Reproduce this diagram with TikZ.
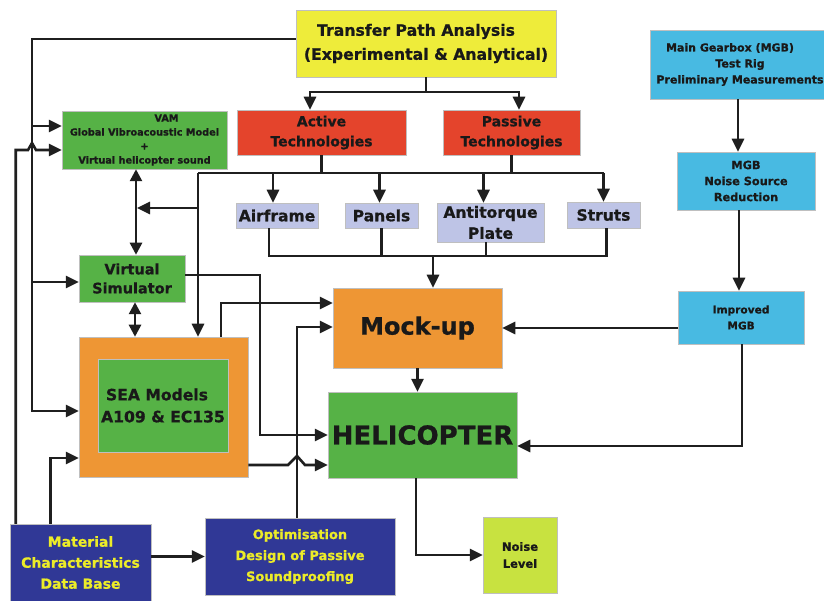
\documentclass[tikz,border=0pt]{standalone}
\usepackage{fontspec}
\setmainfont{DejaVu Sans}[BoldFeatures={FakeBold=0.8}]
\usetikzlibrary{arrows.meta}

\definecolor{tpayellow}{RGB}{238,236,58}
\definecolor{techred}{RGB}{228,68,44}
\definecolor{boxgreen}{RGB}{86,178,70}
\definecolor{mockorange}{RGB}{238,150,52}
\definecolor{partblue}{RGB}{190,196,230}
\definecolor{gearblue}{RGB}{72,186,226}
\definecolor{basenavy}{RGB}{48,56,150}
\definecolor{limegreen}{RGB}{200,226,64}
\definecolor{textyellow}{RGB}{236,236,40}

\newcommand{\bxfont}[2]{\fontsize{#1pt}{#2pt}\selectfont\bfseries}

\begin{document}
\begin{tikzpicture}
  [x=1pt,y=-1pt,
   box/.style={rectangle,draw=black!25,line width=.5pt,inner sep=0pt,align=center,text=black!90},
   part/.style={box,fill=partblue,minimum height=25pt,font=\bxfont{15.5}{21}},
   wire/.style={line width=2.6pt,draw=black!88},
   arr/.style={wire,-{Triangle[length=13pt,width=12pt]}},
   dbl/.style={wire,{Triangle[length=12pt,width=12pt]}-{Triangle[length=12pt,width=12pt]}}]

  \useasboundingbox[fill=white] (0,0) rectangle (824,601);

  \node[box,fill=tpayellow,minimum width=260pt,minimum height=67pt,font=\bxfont{15.7}{24}] (tpa) at (426,43.5)
    {Transfer Path Analysis\hspace*{20pt}\\(Experimental \& Analytical)};
  \node[box,fill=techred,minimum width=169pt,minimum height=45pt,font=\bxfont{14}{20}] (act) at (321.5,132.5) {Active\\Technologies};
  \node[box,fill=techred,minimum width=137pt,minimum height=45pt,font=\bxfont{14}{20}] (pas) at (511.5,132.5) {Passive\\Technologies};
  \node[box,fill=boxgreen,minimum width=165pt,minimum height=58pt,font=\bxfont{9.7}{14}] (vam) at (144.5,140)
    {\hspace*{44pt}VAM\\Global Vibroacoustic Model\\+\hspace*{20pt}\\Virtual helicopter sound};
  \node[box,fill=gearblue,minimum width=180pt,minimum height=69pt,font=\bxfont{11}{16}] (mgb) at (740,64.5)
    {Main Gearbox (MGB)\hspace*{20pt}\\Test Rig\hspace*{46pt}\\Preliminary Measurements};
  \node[box,fill=gearblue,minimum width=138pt,minimum height=58pt,font=\bxfont{11.3}{16}] (src) at (746,181) {MGB\\Noise Source\\Reduction};
  \node[box,fill=gearblue,minimum width=126pt,minimum height=53pt,font=\bxfont{10.6}{16}] (impr) at (741,317.5) {Improved\\MGB};

  \node[part,minimum width=82pt] (airframe) at (277,215.5) {Airframe};
  \node[part,minimum width=73pt] (panels) at (381.5,215.5) {Panels};
  \node[part,minimum width=107pt,minimum height=39pt] (anti) at (490.5,222.5) {Antitorque\\Plate};
  \node[part,minimum width=73pt,minimum height=26pt] (struts) at (603.5,215) {Struts};

  \node[box,fill=boxgreen,minimum width=106pt,minimum height=47pt,font=\bxfont{14.5}{19}] (vs) at (132,278.5) {Virtual\\Simulator};
  \node[box,fill=mockorange,minimum width=169pt,minimum height=80pt,font=\bxfont{24}{28}] (mock) at (417.5,328) {Mock-up};
  \node[box,fill=mockorange,minimum width=169pt,minimum height=140pt] (sea) at (163.5,407) {};
  \node[box,fill=boxgreen,minimum width=130pt,minimum height=93pt,font=\bxfont{15.6}{22}] (seain) at (163,405.5)
    {SEA Models\hspace*{12pt}\\A109 \& EC135};
  \node[box,fill=boxgreen,minimum width=189pt,minimum height=86pt,font=\bxfont{26}{30}] (heli) at (422.5,435) {HELICOPTER};
  \node[box,fill=limegreen,minimum width=74pt,minimum height=76pt,font=\bxfont{11.5}{17}] (noise) at (520,555) {Noise\\Level};
  \node[box,fill=basenavy,text=textyellow,minimum width=141pt,minimum height=77pt,font=\bxfont{14}{21}] (mat) at (80.5,562.5)
    {Material\\Characteristics\\Data Base};
  \node[box,fill=basenavy,text=textyellow,minimum width=190pt,minimum height=77pt,font=\bxfont{13}{21}] (opt) at (300,556.5)
    {Optimisation\\Design of Passive\\Soundproofing};

  \coordinate (top) at (0,92);
  \coordinate (busL) at (198,173);
  \coordinate (low) at (0,256);
  \coordinate (rail1) at (32,126);
  \coordinate (rail2) at (32,282);
  \coordinate (vamlink) at (137,208);
  \coordinate (actin) at ([xshift=-11.5pt]act.north);
  \coordinate (pasin) at ([xshift=7.5pt]pas.north);
  \coordinate (mockin) at ([xshift=15.5pt]mock.north);

  \draw[wire] (tpa.south) -- (tpa.south |- top);
  \draw[arr] (tpa.south |- top) -| (actin);
  \draw[arr] (tpa.south |- top) -| (pasin);

  \draw[arr] ([yshift=4.5pt]tpa.west) -| (32,411) -- (sea.west |- 32,411);
  \draw[arr] (rail1) -- (vam.west |- rail1);
  \draw[arr] (rail2) -- (vs.west |- rail2);
  \draw[arr] ([xshift=6pt]mat.north west) |- (28,150) -- (32,143) -- (36,150) -- (vam.west |- 36,150);
  \draw[arr] ([xshift=41pt]mat.north west) |- (sea.west |- 0,458);
  \draw[arr] (mat.east |- opt.west) -- (opt.west);

  \draw[dbl] (vam.south -| 136,0) -- (vs.north -| 136,0);
  \draw[dbl] (vs.south -| 135,0) -- (sea.north -| 135,0);

  \draw[wire] (act.south) -- (act.south |- busL);
  \draw[wire] (pas.south) -- (pas.south |- busL);
  \draw[wire] (busL) -- (struts.north |- busL);
  \foreach \n/\s in {airframe/-4,panels/-2,anti/-7,struts/0}
    \draw[arr] ([xshift=\s pt]\n.north |- busL) -- ([xshift=\s pt]\n.north);
  \draw[arr] (busL) -- (sea.north -| busL);
  \draw[arr] (busL |- vamlink) -- (vamlink);

  \draw[wire] ([xshift=-8pt]airframe.south) |- ([xshift=3pt]struts.south |- low) -- ([xshift=3pt]struts.south);
  \draw[wire] (panels.south) -- (panels.south |- low);
  \draw[wire] ([xshift=-4.5pt]anti.south) -- ([xshift=-4.5pt]anti.south |- low);
  \draw[arr] (mockin |- low) -- (mockin);

  \draw[arr] ([xshift=57.5pt]sea.north) |- (mock.west |- 0,303);
  \draw[arr] ([xshift=-3pt]opt.north) |- ([yshift=1pt]mock.west);
  \draw[arr] ([yshift=3.5pt]vs.east) -| (260,435) -- (heli.west);
  \draw[arr] (sea.east |- 0,465) -- (288,465) -- (297,456) -- (305,465) -- (heli.west |- 0,465);

  \draw[arr] (mgb.south -| 738,0) -- (src.north -| 738,0);
  \draw[arr] (src.south -| 739,0) -- (impr.north -| 739,0);
  \draw[arr] (mock.east -| impr.west) -- (mock.east);
  \draw[arr] ([xshift=1pt]impr.south) |- ([yshift=-11pt]heli.east);

  \draw[arr] (mock.south) -- (mock.south |- heli.north);
  \draw[arr] ([xshift=-6.5pt]heli.south) |- (noise.west);

\end{tikzpicture}
\end{document}
